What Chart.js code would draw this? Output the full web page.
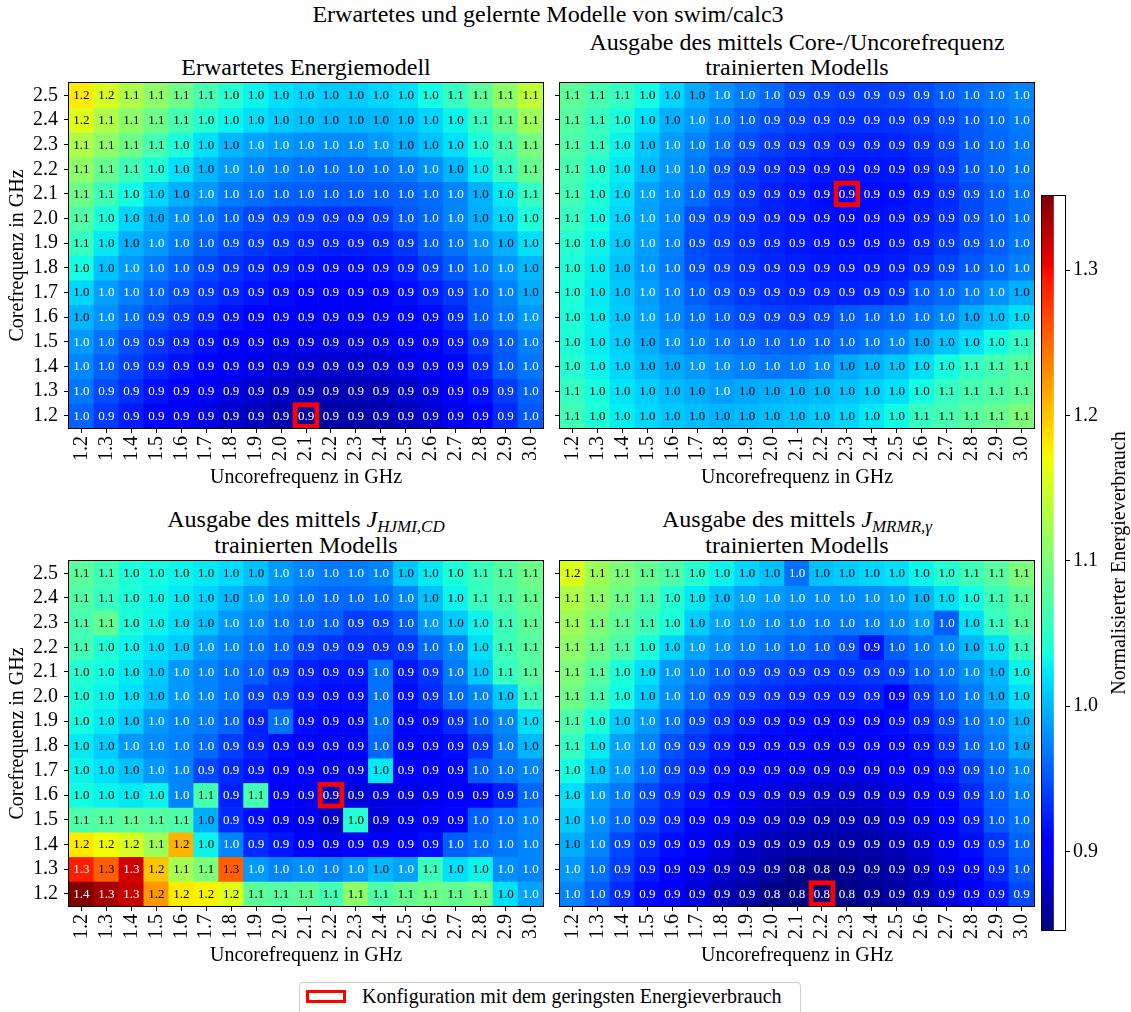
<!DOCTYPE html>
<html>
<head>
<meta charset="utf-8">
<title>Erwartetes und gelernte Modelle von swim/calc3</title>
<script src="https://cdn.jsdelivr.net/npm/chart.js@4.4.0/dist/chart.umd.min.js"></script>
<style>
  html, body { margin: 0; padding: 0; background: #fff; }
  body { width: 1131px; height: 1012px; position: relative; overflow: hidden;
         font-family: "Liberation Serif", serif; color: #000; }
  canvas { position: absolute; }
  .ttl { position: absolute; white-space: nowrap; font-size: 24px; line-height: 26px;
         transform: translateX(-50%); }
  .ttl sub { font-size: 17px; font-style: italic; line-height: 0; vertical-align: -5px; }
  #cbar-label { position: absolute; left: 918px; top: 551px; width: 400px; text-align: center;
                font-size: 20px; line-height: 24px; transform: rotate(-90deg); white-space: nowrap; }
  #legend { position: absolute; left: 299px; top: 982px; width: 500px; height: 40px;
            border: 1px solid #cfcfcf; border-radius: 4px; background: #fff; }
  #legend-swatch { position: absolute; left: 306px; top: 990px; width: 40px; height: 13px;
                   box-sizing: border-box; border: 3px solid #ff0000; }
  #legend-text { position: absolute; left: 362px; top: 986px; font-size: 20px; line-height: 20px; white-space: nowrap; }
</style>
</head>
<body>

<div class="ttl" style="left:548px; top:1px;">Erwartetes und gelernte Modelle von swim/calc3</div>

<div class="ttl" style="left:306px; top:54px;">Erwartetes Energiemodell</div>
<div class="ttl" style="left:797px; top:29px;">Ausgabe des mittels Core-/Uncorefrequenz</div>
<div class="ttl" style="left:797px; top:54px;">trainierten Modells</div>
<div class="ttl" style="left:306px; top:506px;">Ausgabe des mittels <i>J</i><sub>HJMI,CD</sub></div>
<div class="ttl" style="left:306px; top:532px;">trainierten Modells</div>
<div class="ttl" style="left:797px; top:506px;">Ausgabe des mittels <i>J</i><sub>MRMR,γ</sub></div>
<div class="ttl" style="left:797px; top:532px;">trainierten Modells</div>

<canvas id="p1" width="557" height="421" style="left:0px; top:69px;"></canvas>
<canvas id="p2" width="557" height="421" style="left:491px; top:69px;"></canvas>
<canvas id="p3" width="557" height="421" style="left:0px; top:547px;"></canvas>
<canvas id="p4" width="557" height="421" style="left:491px; top:547px;"></canvas>
<canvas id="cbar" width="101" height="754" style="left:1030px; top:186px;"></canvas>

<div id="cbar-label">Normalisierter Energieverbrauch</div>

<div id="legend"></div>
<div id="legend-swatch"></div>
<div id="legend-text">Konfiguration mit dem geringsten Energieverbrauch</div>

<script>
// Uncore frequency (columns) and core frequency (rows, top to bottom), in GHz
const uncoreFreqs = ['1.2','1.3','1.4','1.5','1.6','1.7','1.8','1.9','2.0','2.1',
                     '2.2','2.3','2.4','2.5','2.6','2.7','2.8','2.9','3.0'];
const coreFreqs = ['2.5','2.4','2.3','2.2','2.1','2.0','1.9','1.8','1.7','1.6','1.5','1.4','1.3','1.2'];
const colorbarTicks = [0.9, 1.0, 1.1, 1.2, 1.3];

// Normalised energy, one row per core frequency (2.5 GHz first)
const expectedModel = [
  [1.18,1.155,1.13,1.11,1.09,1.065,1.045,1.03,1.02,1.015,1.01,1.01,1.015,1.02,1.035,1.055,1.08,1.11,1.14],
  [1.16,1.13,1.11,1.09,1.065,1.045,1.03,1.02,1.01,1.005,1.0,1.0,1.0,1.005,1.015,1.03,1.055,1.085,1.12],
  [1.13,1.11,1.09,1.065,1.04,1.02,1.0,0.99,0.985,0.98,0.978,0.978,0.985,0.995,1.005,1.02,1.04,1.065,1.095],
  [1.11,1.085,1.06,1.04,1.02,1.0,0.985,0.975,0.97,0.965,0.962,0.962,0.965,0.97,0.98,0.998,1.025,1.055,1.085],
  [1.09,1.06,1.035,1.015,0.997,0.985,0.97,0.963,0.958,0.955,0.953,0.953,0.954,0.957,0.963,0.975,0.997,1.025,1.055],
  [1.07,1.04,1.015,0.995,0.98,0.967,0.955,0.945,0.94,0.936,0.934,0.934,0.938,0.953,0.96,0.975,0.995,1.015,1.04],
  [1.055,1.025,0.997,0.985,0.97,0.956,0.945,0.937,0.932,0.927,0.924,0.924,0.927,0.935,0.953,0.965,0.98,0.997,1.02],
  [1.035,1.005,0.985,0.97,0.956,0.944,0.934,0.927,0.921,0.917,0.914,0.914,0.917,0.924,0.938,0.953,0.967,0.983,1.0],
  [1.015,0.988,0.972,0.958,0.946,0.936,0.927,0.919,0.913,0.908,0.906,0.906,0.909,0.915,0.924,0.936,0.955,0.973,0.995],
  [0.998,0.982,0.962,0.947,0.936,0.926,0.917,0.909,0.903,0.898,0.896,0.896,0.899,0.905,0.914,0.928,0.953,0.968,0.985],
  [0.985,0.966,0.948,0.936,0.926,0.916,0.907,0.9,0.894,0.89,0.888,0.888,0.89,0.896,0.905,0.918,0.938,0.954,0.972],
  [0.976,0.956,0.94,0.928,0.917,0.907,0.898,0.891,0.885,0.881,0.879,0.879,0.882,0.888,0.897,0.91,0.928,0.953,0.967],
  [0.967,0.946,0.932,0.918,0.907,0.897,0.888,0.881,0.875,0.871,0.869,0.869,0.872,0.879,0.888,0.901,0.917,0.938,0.958],
  [0.958,0.938,0.923,0.909,0.898,0.888,0.879,0.872,0.866,0.86,0.862,0.863,0.866,0.872,0.881,0.893,0.909,0.93,0.953]
];

const coreUncoreModel = [
  [1.08,1.067,1.055,1.035,1.015,0.995,0.982,0.97,0.96,0.947,0.942,0.94,0.94,0.942,0.946,0.955,0.962,0.968,0.975],
  [1.075,1.057,1.04,1.02,0.997,0.985,0.97,0.957,0.946,0.94,0.935,0.932,0.932,0.934,0.938,0.944,0.953,0.962,0.97],
  [1.072,1.056,1.03,1.008,0.988,0.974,0.96,0.947,0.938,0.932,0.928,0.925,0.925,0.927,0.932,0.94,0.953,0.96,0.968],
  [1.066,1.045,1.025,1.003,0.985,0.968,0.948,0.938,0.93,0.924,0.92,0.918,0.918,0.92,0.925,0.935,0.952,0.96,0.967],
  [1.062,1.04,1.02,0.99,0.978,0.962,0.946,0.935,0.926,0.92,0.915,0.91,0.913,0.916,0.921,0.93,0.945,0.955,0.965],
  [1.056,1.035,1.015,0.99,0.975,0.948,0.94,0.932,0.925,0.92,0.916,0.914,0.915,0.918,0.923,0.932,0.945,0.955,0.965],
  [1.045,1.03,1.01,0.988,0.972,0.947,0.94,0.932,0.926,0.921,0.918,0.916,0.917,0.92,0.925,0.935,0.946,0.956,0.967],
  [1.042,1.027,1.005,0.985,0.97,0.948,0.94,0.933,0.927,0.923,0.92,0.919,0.92,0.923,0.93,0.942,0.953,0.962,0.972],
  [1.04,1.025,1.008,0.988,0.972,0.955,0.945,0.937,0.931,0.927,0.925,0.925,0.927,0.932,0.953,0.96,0.97,0.982,0.996],
  [1.04,1.026,1.01,0.99,0.975,0.963,0.953,0.945,0.94,0.937,0.942,0.953,0.956,0.96,0.966,0.976,0.995,1.006,1.02],
  [1.04,1.026,1.012,0.995,0.982,0.972,0.965,0.96,0.957,0.956,0.958,0.962,0.968,0.976,0.994,1.006,1.02,1.035,1.052],
  [1.045,1.03,1.016,1.002,0.994,0.985,0.978,0.972,0.968,0.968,0.976,0.994,1.0,1.008,1.02,1.035,1.055,1.065,1.075],
  [1.056,1.037,1.022,1.012,1.002,0.996,0.988,0.994,0.996,0.998,1.002,1.006,1.012,1.02,1.035,1.055,1.065,1.072,1.08],
  [1.062,1.042,1.027,1.016,1.008,1.003,0.998,1.0,1.003,1.006,1.01,1.015,1.024,1.034,1.056,1.066,1.076,1.086,1.1]
];

const hjmiModel = [
  [1.078,1.062,1.04,1.035,1.03,1.025,1.018,1.005,0.985,0.975,0.97,0.97,0.975,1.008,1.025,1.04,1.058,1.074,1.09],
  [1.072,1.057,1.04,1.032,1.025,1.015,1.0,0.985,0.975,0.965,0.96,0.96,0.962,0.975,1.005,1.03,1.056,1.07,1.085],
  [1.066,1.082,1.04,1.03,1.02,1.005,0.985,0.975,0.965,0.957,0.954,0.94,0.94,0.954,0.985,1.01,1.03,1.06,1.08],
  [1.062,1.042,1.03,1.02,1.01,0.985,0.975,0.965,0.956,0.94,0.935,0.93,0.93,0.935,0.96,0.975,1.02,1.06,1.076],
  [1.045,1.035,1.025,1.01,0.985,0.975,0.965,0.955,0.94,0.925,0.92,0.92,0.965,0.92,0.935,0.97,1.01,1.055,1.076],
  [1.04,1.03,1.02,1.005,0.985,0.975,0.965,0.94,0.935,0.92,0.915,0.915,0.965,0.915,0.93,0.96,0.975,1.01,1.06],
  [1.035,1.025,1.01,0.985,0.975,0.97,0.958,0.925,0.965,0.915,0.91,0.91,0.965,0.91,0.915,0.93,0.955,0.975,1.02],
  [1.025,1.01,0.985,0.978,0.972,0.96,0.94,0.925,0.915,0.905,0.9,0.9,0.96,0.9,0.905,0.915,0.935,0.97,1.0],
  [1.03,1.02,1.005,0.985,0.975,0.945,0.93,0.92,0.91,0.9,0.895,0.895,1.025,0.9,0.9,0.91,0.955,0.965,0.975],
  [1.035,1.03,1.025,1.03,0.975,1.065,0.925,1.065,0.905,0.895,0.875,0.885,0.89,0.89,0.895,0.9,0.91,0.925,0.96],
  [1.07,1.075,1.08,1.075,1.07,0.996,0.93,0.915,0.905,0.895,0.88,1.045,0.885,0.895,0.9,0.91,0.955,0.965,0.975],
  [1.18,1.17,1.155,1.12,1.21,1.03,0.975,0.93,0.92,0.905,0.895,0.9,0.9,0.905,0.915,0.955,0.962,0.968,0.975],
  [1.29,1.255,1.315,1.2,1.125,1.1,1.256,0.985,0.975,0.98,0.975,0.985,1.0,0.99,1.058,1.02,1.03,0.98,0.975],
  [1.351,1.335,1.32,1.225,1.18,1.175,1.16,1.08,1.075,1.08,1.065,1.11,1.07,1.085,1.09,1.085,1.09,1.02,0.99]
];

const mrmrModel = [
  [1.158,1.12,1.1,1.085,1.07,1.045,1.03,1.015,1.005,0.965,1.005,1.01,1.015,1.02,1.03,1.045,1.06,1.075,1.1],
  [1.13,1.11,1.09,1.07,1.045,1.025,1.005,0.99,0.985,0.98,0.978,0.978,0.98,0.985,1.0,1.02,1.035,1.06,1.08],
  [1.12,1.1,1.08,1.06,1.04,1.01,0.99,0.98,0.975,0.97,0.968,0.968,0.97,0.975,0.985,0.955,1.02,1.055,1.075],
  [1.11,1.09,1.07,1.04,1.015,0.99,0.978,0.97,0.965,0.958,0.953,0.945,0.92,0.955,0.965,0.975,1.0,1.02,1.055],
  [1.1,1.075,1.04,1.02,0.985,0.97,0.955,0.945,0.94,0.935,0.932,0.932,0.935,0.94,0.955,0.965,0.98,1.0,1.03],
  [1.09,1.065,1.035,1.01,0.98,0.96,0.945,0.935,0.93,0.925,0.922,0.922,0.925,0.905,0.935,0.955,0.97,0.995,1.02],
  [1.07,1.04,1.01,0.985,0.965,0.945,0.932,0.922,0.915,0.91,0.905,0.905,0.908,0.915,0.925,0.94,0.96,0.975,1.0],
  [1.055,1.025,0.99,0.975,0.948,0.935,0.922,0.912,0.905,0.9,0.895,0.895,0.898,0.905,0.915,0.93,0.955,0.97,0.995],
  [1.035,1.01,0.985,0.965,0.94,0.928,0.915,0.905,0.898,0.892,0.888,0.888,0.89,0.897,0.905,0.92,0.94,0.96,0.975],
  [1.02,0.985,0.97,0.945,0.93,0.918,0.905,0.895,0.888,0.882,0.878,0.878,0.88,0.887,0.897,0.912,0.93,0.955,0.97],
  [1.01,0.98,0.96,0.94,0.925,0.91,0.898,0.888,0.88,0.874,0.87,0.87,0.872,0.88,0.89,0.905,0.922,0.952,0.965],
  [0.995,0.975,0.945,0.93,0.915,0.9,0.888,0.878,0.87,0.865,0.862,0.862,0.865,0.872,0.882,0.897,0.915,0.935,0.958],
  [0.985,0.965,0.94,0.922,0.905,0.892,0.88,0.87,0.862,0.849,0.848,0.853,0.858,0.865,0.875,0.89,0.908,0.93,0.953],
  [0.975,0.955,0.93,0.912,0.898,0.885,0.872,0.862,0.849,0.847,0.846,0.848,0.855,0.862,0.872,0.885,0.9,0.92,0.945]
];

const SERIF = '"Liberation Serif", serif';
Chart.defaults.font.family = SERIF;
Chart.defaults.color = '#000';

// Shared colour scale over all four models
const allValues = [expectedModel, coreUncoreModel, hjmiModel, mrmrModel].flat(2);
const vmin = Math.min(...allValues);
const vmax = Math.max(...allValues);
const norm = v => (v - vmin) / (vmax - vmin);

// matplotlib "jet" colormap segments
const JET = {
  r: [[0, 0], [0.35, 0], [0.66, 1], [0.89, 1], [1, 0.5]],
  g: [[0, 0], [0.125, 0], [0.375, 1], [0.64, 1], [0.91, 0], [1, 0]],
  b: [[0, 0.5], [0.11, 1], [0.34, 1], [0.65, 0], [1, 0]]
};
function seg(pts, t) {
  for (let i = 1; i < pts.length; i++) {
    if (t <= pts[i][0]) {
      const [t0, v0] = pts[i - 1], [t1, v1] = pts[i];
      return v0 + (v1 - v0) * (t - t0) / (t1 - t0);
    }
  }
  return pts[pts.length - 1][1];
}
function jet(t) {
  t = Math.min(1, Math.max(0, t));
  return [seg(JET.r, t), seg(JET.g, t), seg(JET.b, t)];
}
const rgb = c => `rgb(${Math.round(c[0] * 255)},${Math.round(c[1] * 255)},${Math.round(c[2] * 255)})`;
function labelColor(v) {
  const c = jet(norm(v));
  return (0.299 * c[0] + 0.587 * c[1] + 0.114 * c[2]) < 0.5 ? '#ffffff' : '#000000';
}

// Value labels centred in every cell
const cellLabels = {
  id: 'cellLabels',
  afterDatasetsDraw(chart) {
    const ctx = chart.ctx;
    ctx.save();
    ctx.font = '13px ' + SERIF;
    ctx.textAlign = 'center';
    ctx.textBaseline = 'middle';
    chart.data.datasets.forEach((ds, i) => {
      if (!ds.cellValues) return;
      chart.getDatasetMeta(i).data.forEach((bar, j) => {
        const v = ds.cellValues[j];
        const p = bar.getProps(['x', 'y', 'base'], true);
        ctx.fillStyle = labelColor(v);
        ctx.fillText(v.toFixed(1), p.x, (p.y + p.base) / 2 + 0.5);
      });
    });
    ctx.restore();
  }
};

// Black frame around the plot area
const frame = {
  id: 'frame',
  afterDraw(chart) {
    const { left, top, right, bottom } = chart.chartArea;
    const ctx = chart.ctx;
    ctx.save();
    ctx.strokeStyle = '#000';
    ctx.lineWidth = 1;
    ctx.strokeRect(Math.round(left) - 0.5, Math.round(top) - 0.5,
                   Math.round(right) - Math.round(left) + 1, Math.round(bottom) - Math.round(top) + 1);
    ctx.restore();
  }
};

function heatmap(canvasId, values, showYAxis) {
  const nRows = coreFreqs.length;
  const datasets = values.map((row, r) => ({
    data: row.map(() => [nRows - 1 - r, nRows - r]),
    cellValues: row,
    backgroundColor: row.map(v => rgb(jet(norm(v)))),
    borderWidth: 0,
    grouped: false,
    barPercentage: 1,
    categoryPercentage: 1,
    order: 1
  }));

  // configuration with the lowest energy
  let best = { r: 0, c: 0, v: Infinity };
  values.forEach((row, r) => row.forEach((v, c) => { if (v < best.v) best = { r, c, v }; }));
  datasets.push({
    data: uncoreFreqs.map((_, c) => c === best.c ? [nRows - 1 - best.r, nRows - best.r] : null),
    backgroundColor: 'rgba(0,0,0,0)',
    borderColor: '#ff0000',
    borderWidth: 3,
    borderSkipped: false,
    inflateAmount: 1,
    grouped: false,
    barPercentage: 1,
    categoryPercentage: 1,
    order: 0
  });

  return new Chart(document.getElementById(canvasId), {
    type: 'bar',
    data: { labels: uncoreFreqs, datasets },
    options: {
      responsive: false,
      animation: false,
      devicePixelRatio: 1,
      events: [],
      layout: { padding: { top: 14, right: 14, left: 0, bottom: 0 } },
      plugins: { legend: { display: false }, tooltip: { enabled: false } },
      scales: {
        x: {
          type: 'category',
          offset: true,
          grid: { display: true, drawOnChartArea: false, drawTicks: true, tickLength: 5, color: '#000', offset: false },
          border: { display: false },
          ticks: { autoSkip: false, minRotation: 90, maxRotation: 90, padding: 3, color: '#000',
                   font: { family: SERIF, size: 20 } },
          title: { display: true, text: 'Uncorefrequenz in GHz', color: '#000',
                   font: { family: SERIF, size: 20 }, padding: { top: 0, bottom: 0 } },
          afterFit(axis) { axis.height = 62; axis.paddingLeft = 0; axis.paddingRight = 0; }
        },
        y: {
          type: 'linear',
          min: 0,
          max: nRows,
          afterBuildTicks(axis) { axis.ticks = coreFreqs.map((_, r) => ({ value: nRows - 0.5 - r })); },
          grid: { display: true, drawOnChartArea: false, drawTicks: true, tickLength: 5, color: '#000' },
          border: { display: false },
          ticks: { autoSkip: false, display: showYAxis, padding: 6, color: '#000',
                   font: { family: SERIF, size: 20 },
                   callback: v => coreFreqs[Math.round(nRows - 0.5 - v)] },
          title: { display: showYAxis, text: 'Corefrequenz in GHz', color: '#000',
                   font: { family: SERIF, size: 20 }, padding: { top: 6, bottom: 0 } },
          afterFit(axis) { axis.width = 69; axis.paddingTop = 0; axis.paddingBottom = 0; }
        }
      }
    },
    plugins: [cellLabels, frame]
  });
}

heatmap('p1', expectedModel, true);
heatmap('p2', coreUncoreModel, false);
heatmap('p3', hjmiModel, true);
heatmap('p4', mrmrModel, false);

// Colour bar
const jetStops = [0, 0.11, 0.125, 0.34, 0.35, 0.375, 0.64, 0.65, 0.66, 0.89, 0.91, 1];
new Chart(document.getElementById('cbar'), {
  type: 'bar',
  data: {
    labels: [''],
    datasets: [{
      data: [[vmin, vmax]],
      borderWidth: 0,
      barPercentage: 1,
      categoryPercentage: 1,
      backgroundColor(context) {
        const area = context.chart.chartArea;
        if (!area) return 'rgba(0,0,0,0)';
        const g = context.chart.ctx.createLinearGradient(0, area.bottom, 0, area.top);
        jetStops.forEach(t => g.addColorStop(t, rgb(jet(t))));
        return g;
      }
    }]
  },
  options: {
    responsive: false,
    animation: false,
    devicePixelRatio: 1,
    events: [],
    layout: { padding: { top: 10, bottom: 10, left: 12, right: 0 } },
    plugins: { legend: { display: false }, tooltip: { enabled: false } },
    scales: {
      x: { display: false, offset: false },
      y: {
        position: 'right',
        min: vmin,
        max: vmax,
        afterBuildTicks(axis) { axis.ticks = colorbarTicks.map(v => ({ value: v })); },
        grid: { display: true, drawOnChartArea: false, drawTicks: true, tickLength: 5, color: '#000' },
        border: { display: false },
        ticks: { padding: 3, color: '#000', font: { family: SERIF, size: 20 }, callback: v => v.toFixed(1) },
        afterFit(axis) { axis.width = 66; axis.paddingTop = 0; axis.paddingBottom = 0; }
      }
    }
  },
  plugins: [frame]
});
</script>
</body>
</html>
